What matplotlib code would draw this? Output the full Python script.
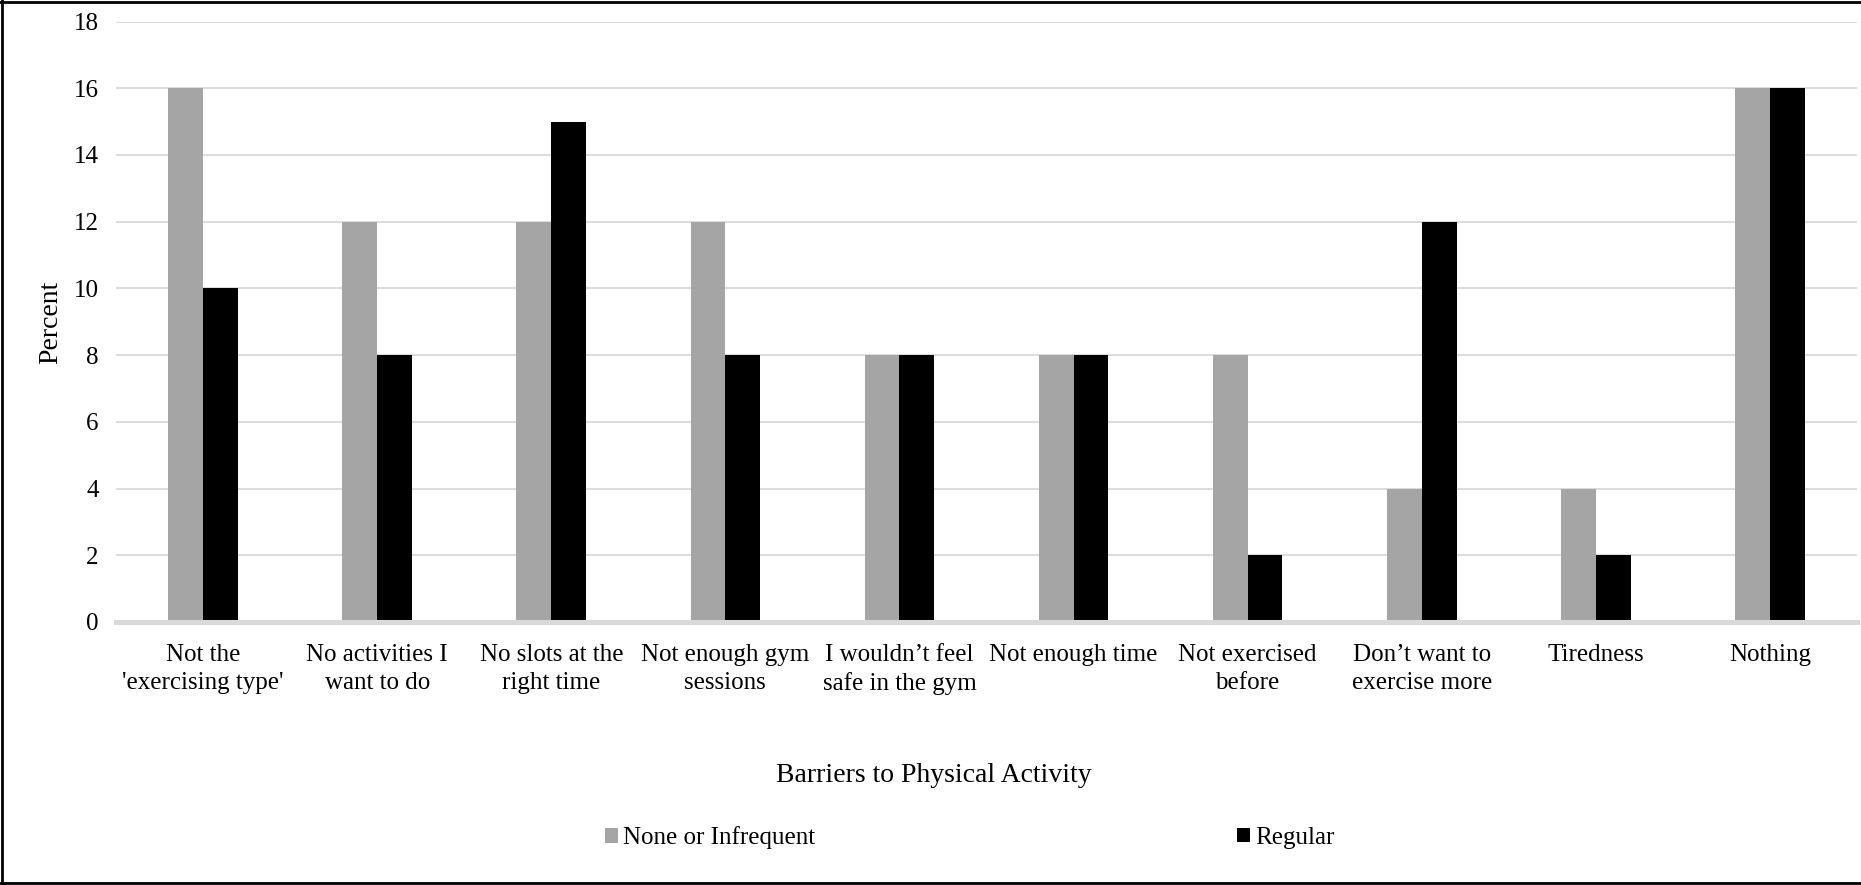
import numpy as np
import matplotlib.pyplot as plt
from matplotlib.lines import Line2D
from matplotlib.patches import Patch

plt.rcParams['font.family'] = ['Liberation Serif', 'DejaVu Serif']

categories = [
    "Not the\n'exercising type'",
    "No activities I\nwant to do",
    "No slots at the\nright time",
    "Not enough gym\nsessions",
    "I wouldn\u2019t feel\nsafe in the gym",
    "Not enough time",
    "Not exercised\nbefore",
    "Don\u2019t want to\nexercise more",
    "Tiredness",
    "Nothing",
]
none_or_infrequent = [16, 12, 12, 12, 8, 8, 8, 4, 4, 16]
regular = [10, 8, 15, 8, 8, 8, 2, 12, 2, 16]
y_ticks = [0, 2, 4, 6, 8, 10, 12, 14, 16, 18]

GRAY = "#a5a5a5"
GRID = "#d9d9d9"
W, H = 1861, 885

fig = plt.figure(figsize=(W / 100, H / 100), dpi=100)
ax = fig.add_axes([116 / W, 1 - 622 / H, (1857 - 116) / W, (622 - 21.5) / H])

x = np.arange(len(categories))
bw = 0.2
ax.bar(x - bw / 2, none_or_infrequent, bw, color=GRAY, linewidth=0, zorder=2)
ax.bar(x + bw / 2, regular, bw, color="black", linewidth=0, zorder=2)

ax.set_xlim(-0.5, len(categories) - 0.5)
ax.set_ylim(0, 18)
ax.set_yticks(y_ticks)
ax.set_xticks(x)
ax.set_xticklabels(categories, fontsize=18, linespacing=1.36)
ax.tick_params(axis='y', length=0, pad=12.5, labelsize=18)
ax.tick_params(axis='x', length=0, pad=15.5)

ax.grid(axis='y', color=GRID, linewidth=1.3, zorder=0)
ax.axhline(0, color=GRID, linewidth=3.6, zorder=3, clip_on=False)
for s in ax.spines.values():
    s.set_visible(False)

fig.text(51 / W, 1 - 322 / H, "Percent", fontsize=20, rotation=90,
         ha='center', va='center')
fig.text(934 / W, 1 - 776 / H, "Barriers to Physical Activity", fontsize=20,
         ha='center', va='center')

# one legend per series, placed side by side
for label, color, xpos in [("None or Infrequent", GRAY, 605), ("Regular", "black", 1237)]:
    fig.legend(handles=[Patch(facecolor=color, edgecolor='none', label=label)],
               loc='center left', bbox_to_anchor=(xpos / W, 1 - 838 / H),
               frameon=False, fontsize=18, handlelength=0.52, handleheight=0.52,
               handletextpad=0.2, borderpad=0, borderaxespad=0)

# outer frame
for xs, ys in [([2 / W, 2 / W], [0, 1]), ([0, 1], [1 - 2 / H, 1 - 2 / H]),
               ([0, 1], [2 / H, 2 / H])]:
    fig.add_artist(Line2D(xs, ys, color='black', linewidth=2, transform=fig.transFigure))

fig.savefig("out.png", dpi=100)
